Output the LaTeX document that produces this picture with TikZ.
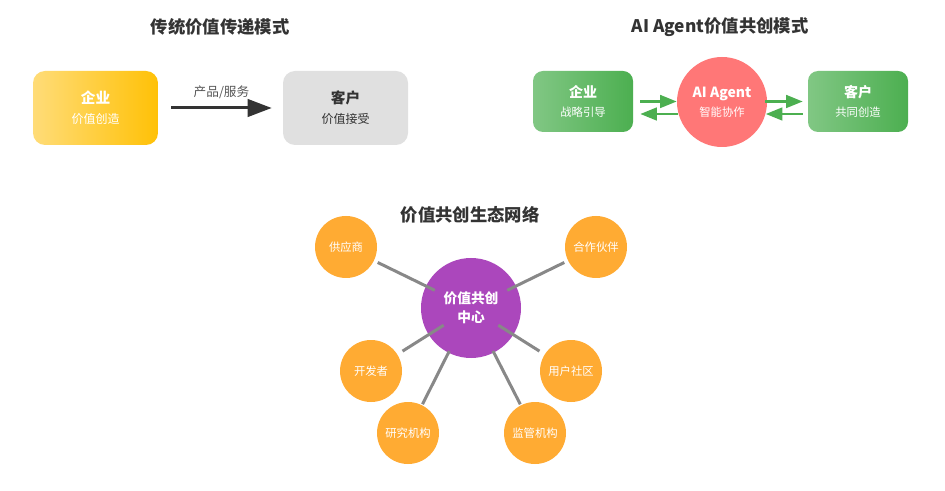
\documentclass[tikz,border=0pt]{standalone}
\usepackage{fontspec}
\setmainfont{Noto Sans CJK SC}
\usetikzlibrary{arrows.meta,calc,backgrounds}
\definecolor{ttl}{HTML}{333333}
\definecolor{lbl}{HTML}{555555}
\definecolor{yl}{HTML}{FFDC78}
\definecolor{yr}{HTML}{FFC107}
\definecolor{gl}{HTML}{81C784}
\definecolor{gr}{HTML}{4CAF50}
\definecolor{graybox}{HTML}{E0E0E0}
\definecolor{aired}{HTML}{FF7777}
\definecolor{purp}{HTML}{AB47BC}
\definecolor{org}{HTML}{FFAB33}
\definecolor{spokec}{HTML}{888888}
\begin{document}
\begin{tikzpicture}[x=0.75pt,y=-0.75pt,
  title/.style={font=\fontsize{13}{15}\selectfont\bfseries, text=ttl},
  bigbox/.style={rounded corners=9pt, minimum width=93.75pt, minimum height=55.5pt, inner sep=0pt, align=center, font=\fontsize{9}{15}\selectfont},
  smallbox/.style={rounded corners=7.5pt, minimum width=75pt, minimum height=45.75pt, inner sep=0pt, align=center, text=white, left color=gl, right color=gr, font=\fontsize{8.5}{14.25}\selectfont},
  sat/.style={circle, fill=org, minimum size=46.5pt, inner sep=0pt, text=white, font=\fontsize{8.5}{10}\selectfont},
  tarrow/.style={draw=ttl, line width=2.25pt, -{Triangle[length=18pt,width=13pt]}},
  garrow/.style={draw=gr, line width=2pt, -{Triangle[length=12.5pt,width=9.5pt]}},
  spoke/.style={draw=spokec, line width=2.25pt}
]
\useasboundingbox[fill=white] (0,0) rectangle (945,491);

% ---------- traditional model ----------
\node[title] (t1) at (220,27) {传统价值传递模式};
\node[bigbox, left color=yl, right color=yr, text=white] (ent1) at (95.5,108)
  {{\fontsize{11}{15}\selectfont\bfseries 企业}\\价值创造};
\node[bigbox, fill=graybox, text=ttl] (cus1) at (345.5,108)
  {{\fontsize{11}{15}\selectfont\bfseries 客户}\\价值接受};
\draw[tarrow] ([xshift=9.75pt]ent1.east) -- node[midway, above=2.5pt, text=lbl, font=\fontsize{9.5}{11}\selectfont] (lab1) {产品/服务} ([xshift=-8.25pt]cus1.west);

% ---------- AI Agent model ----------
\node[title] (t2) at (720,27) {AI Agent价值共创模式};
\node[smallbox] (ent2) at (583,101.5)
  {{\fontsize{10.5}{14.25}\selectfont\bfseries 企业}\\战略引导};
\node[smallbox] (cus2) at (858,101.5)
  {{\fontsize{10.5}{14.25}\selectfont\bfseries 客户}\\共同创造};
\node[circle, fill=aired, minimum size=67.5pt, inner sep=0pt, align=center, text=white, font=\fontsize{8.5}{14.25}\selectfont] (ai) at (722,102)
  {{\fontsize{10.5}{14.25}\selectfont\bfseries AI Agent}\\智能协作};
\draw[garrow] ([xshift=5.25pt]ent2.east) -- (ai.west |- ent2.east);
\draw[garrow] ($(ai.west)+(1.5,12)$) -- ($(ent2.east)+(7,12.5)$);
\draw[garrow] ($(ai.east |- cus2.west)+(-2,0)$) -- ([xshift=-3.75pt]cus2.west);
\draw[garrow] ($(cus2.west)+(-5,12.5)$) -- ($(ai.east)+(-1.5,12)$);

% ---------- ecosystem ----------
\node[title] (t3) at (470,215) {价值共创生态网络};
\node[circle, fill=purp, minimum size=75pt, inner sep=0pt, align=center, text=white, font=\fontsize{10.3}{14.25}\selectfont\bfseries] (ctr) at (471,308) {价值共创\\中心};
\node[sat] (s1) at (346,247) {供应商};
\node[sat] (s2) at (596,247) {合作伙伴};
\node[sat] (s3) at (371,371) {开发者};
\node[sat] (s4) at (571,371) {用户社区};
\node[sat] (s5) at (408,433) {研究机构};
\node[sat] (s6) at (535,433) {监管机构};
\draw[spoke, shorten <=3pt, shorten >=-7.5pt] (s1) -- (ctr);
\draw[spoke, shorten <=3pt, shorten >=-7.5pt] (s2) -- (ctr);
\draw[spoke, shorten <=4.5pt, shorten >=-13.5pt] (s3) -- (ctr);
\draw[spoke, shorten <=4.5pt, shorten >=-13.5pt] (s4) -- (ctr);
\draw[spoke, shorten <=0.75pt, shorten >=-1.5pt] (s5) -- (ctr);
\draw[spoke, shorten <=0.75pt, shorten >=-1.5pt] (s6) -- (ctr);

% ---------- glows ----------
\begin{scope}[on background layer]
  \foreach \i in {1,...,9}{
    \pgfmathsetmacro\rc{9+0.75*\i}
    \fill[yr, opacity=0.075, rounded corners=\rc pt] ($(ent1.south west)+(-\i,\i)$) rectangle ($(ent1.north east)+(\i,-\i)$);
  }
  \foreach \i in {1,...,7}{
    \pgfmathsetmacro\rc{7.5+0.75*\i}
    \fill[gr, opacity=0.065, rounded corners=\rc pt] ($(ent2.south west)+(-\i,\i)$) rectangle ($(ent2.north east)+(\i,-\i)$);
    \fill[gr, opacity=0.065, rounded corners=\rc pt] ($(cus2.south west)+(-\i,\i)$) rectangle ($(cus2.north east)+(\i,-\i)$);
  }
  \foreach \i in {1,...,9}{
    \fill[aired, opacity=0.075] (ai.center) circle[radius=45+\i];
  }
  \foreach \i in {1,...,11}{
    \fill[purp, opacity=0.065] (ctr.center) circle[radius=50+\i];
  }
\end{scope}
\end{tikzpicture}
\end{document}
